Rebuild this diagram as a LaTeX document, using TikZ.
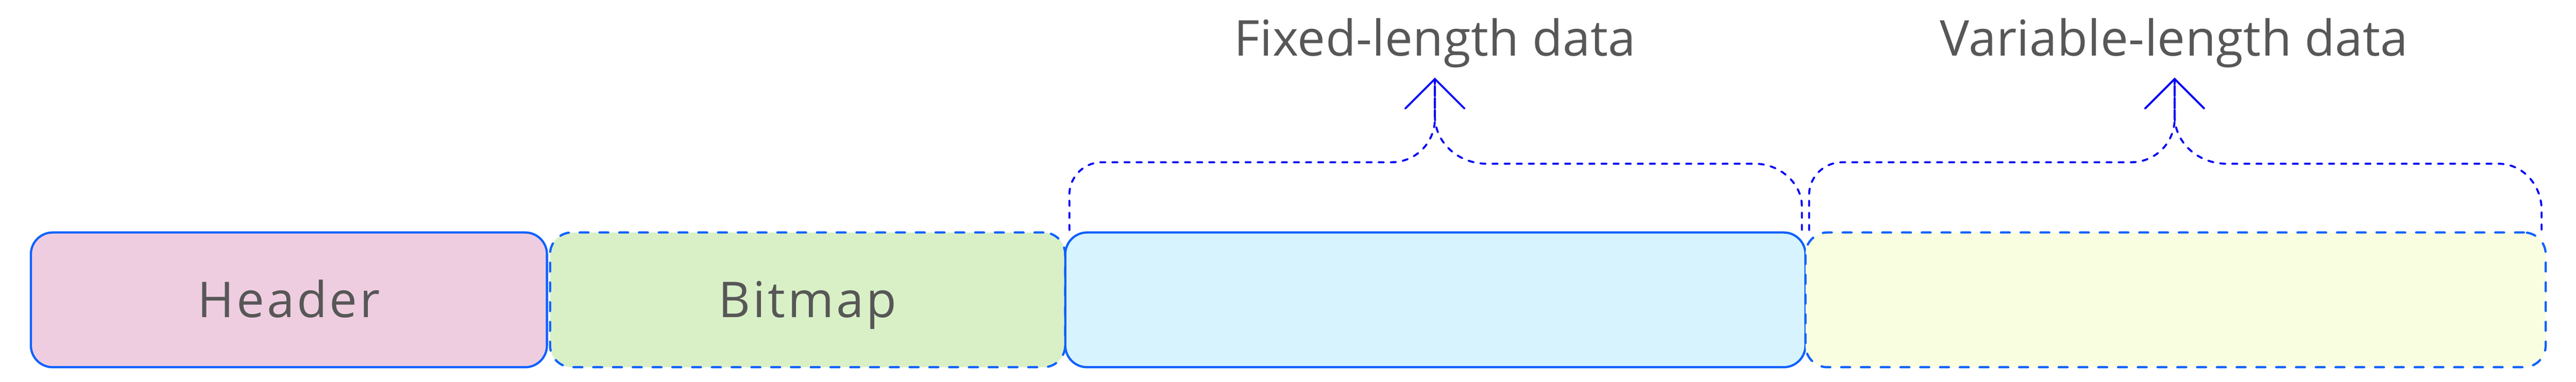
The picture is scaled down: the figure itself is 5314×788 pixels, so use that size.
\documentclass[tikz,border=0pt]{standalone}
\usepackage{fontspec}
\setmainfont{Open Sans}
\usetikzlibrary{calc}
\definecolor{boxline}{HTML}{0F62FE}
\definecolor{braceblue}{HTML}{0000F5}
\definecolor{txt}{HTML}{575757}
\definecolor{pinkfill}{HTML}{EFCDE0}
\definecolor{greenfill}{HTML}{D9F0C7}
\definecolor{bluefill}{HTML}{D7F4FE}
\definecolor{yellowfill}{HTML}{FAFEE0}
\tikzset{
  segbox/.style={draw=boxline, line width=1.3pt, rounded corners=0.45cm,
    minimum height=2.78cm, inner sep=0pt, text=txt,
    text height=20.4pt, text depth=0pt,
    font=\fontsize{29}{35}\selectfont\addfontfeature{LetterSpace=5}},
  dashedbox/.style={segbox, line cap=round, dash pattern=on 5.2pt off 6.4pt},
  brace/.style={draw=braceblue, line width=1.15pt, line cap=round,
    dash pattern=on 3.1pt off 4pt},
  wing/.style={draw=braceblue, line width=1.15pt, line cap=round, solid},
  label/.style={text=txt, inner sep=0pt, anchor=base,
    font=\fontsize{29}{35}\selectfont\addfontfeature{LetterSpace=0.5}}
}
\begin{document}
\begin{tikzpicture}[x=0.01cm, y=-0.01cm]
\useasboundingbox (0,0) rectangle (5314,788);
% boxes
\node[segbox, fill=pinkfill, minimum width=10.64cm] (header) at (596,619) {Header};
\node[dashedbox, fill=greenfill, minimum width=10.62cm] (bitmap) at (1666,619) {Bitmap};
\node[segbox, fill=bluefill, minimum width=15.26cm] (fixed) at (2961,619) {};
\node[dashedbox, fill=yellowfill, minimum width=15.26cm] (variable) at (4488,619) {};
% brace anchor points
\coordinate (fl) at (2206,475);
\coordinate (fapex) at (2960,163);
\coordinate (fr) at (3717,475);
\coordinate (vl) at (3732,475);
\coordinate (vapex) at (4486,163);
\coordinate (vr) at (5243,475);
% fixed-length brace
\draw[brace] (fl) -- (2206,402) .. controls (2206,365) and (2236,335) .. (2273,335)
  -- (2870,335) .. controls (2920,335) and (2960,295) .. (2960,245) -- (fapex);
\draw[brace] (fapex) -- (2960,240) .. controls (2960,294) and (3008,338) .. (3067,338)
  -- (3620,338) .. controls (3673,338) and (3717,380) .. (3717,425) -- (fr);
\draw[wing] ($(fapex)+(-61,61)$) -- (fapex) -- ($(fapex)+(61,61)$);
% variable-length brace
\draw[brace] (vl) -- (3732,402) .. controls (3732,365) and (3763,335) .. (3800,335)
  -- (4396,335) .. controls (4446,335) and (4486,295) .. (4486,245) -- (vapex);
\draw[brace] (vapex) -- (4486,240) .. controls (4486,294) and (4534,338) .. (4593,338)
  -- (5154,338) .. controls (5205,338) and (5243,383) .. (5243,433) -- (vr);
\draw[wing] ($(vapex)+(-61,61)$) -- (vapex) -- ($(vapex)+(61,61)$);
% labels
\node[label] (flabel) at (2960,115) {Fixed-length data};
\node[label] (vlabel) at (4485,115) {Variable-length data};
\end{tikzpicture}
\end{document}
